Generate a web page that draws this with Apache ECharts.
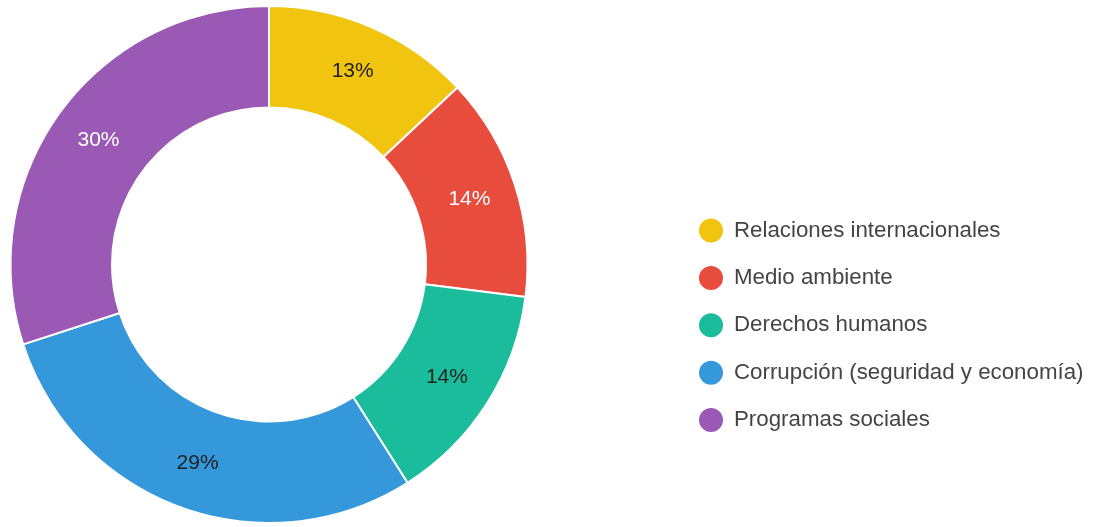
<!DOCTYPE html>
<html>
<head>
<meta charset="utf-8">
<script src="https://cdn.jsdelivr.net/npm/echarts@6/dist/echarts.min.js"></script>
<style>
html,body{margin:0;padding:0;background:#fff;}
#chart{width:1101px;height:527px;}
</style>
</head>
<body>
<div id="chart"></div>
<script>
const categories = ["Relaciones internacionales", "Medio ambiente", "Derechos humanos", "Corrupción (seguridad y economía)", "Programas sociales"];
const values = [13, 14, 14, 29, 30];
const colors = ["#f1c40f", "#e74c3c", "#1abc9c", "#3498db", "#9b59b6"];
const labelColors = ["#222222", "#ffffff", "#222222", "#222222", "#ffffff"];

const chart = echarts.init(document.getElementById('chart'), null, {renderer: 'canvas'});
chart.setOption({
  animation: false,
  legend: {
    orient: 'vertical',
    left: 697,
    top: 216.5,
    padding: 0,
    icon: 'circle',
    itemWidth: 26,
    itemHeight: 26,
    itemGap: 19.4,
    selectedMode: false,
    textStyle: {fontFamily: 'Liberation Sans', fontSize: 22.3, color: '#444444', padding: [0, 0, 0, 5]},
    data: categories
  },
  series: [{
    type: 'pie',
    center: [269, 264.5],
    radius: [157, 258.5],
    startAngle: 90,
    clockwise: true,
    avoidLabelOverlap: false,
    itemStyle: {borderColor: '#ffffff', borderWidth: 2},
    label: {
      show: true,
      position: 'inside',
      formatter: '{d}%',
      fontFamily: 'Liberation Sans',
      fontSize: 21
    },
    labelLine: {show: false},
    emphasis: {disabled: true},
    percentPrecision: 0,
    data: categories.map((c, i) => ({
      name: c,
      value: values[i],
      itemStyle: {color: colors[i]},
      label: {color: labelColors[i]}
    }))
  }]
});
</script>
</body>
</html>
